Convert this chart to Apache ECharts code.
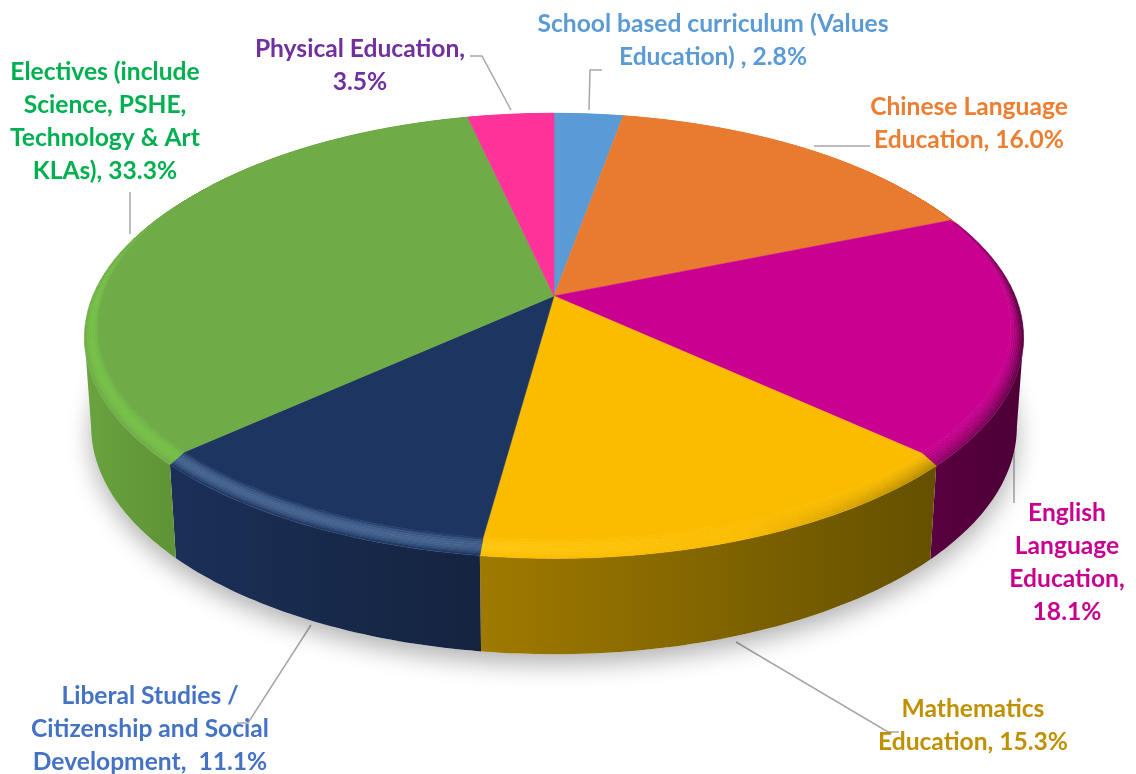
<!DOCTYPE html>
<html>
<head>
<meta charset="utf-8">
<style>
  html, body { margin: 0; padding: 0; background: #fff; }
  #chart { width: 1136px; height: 774px; }
</style>
<script src="https://cdn.jsdelivr.net/npm/echarts@6/dist/echarts.min.js"></script>
</head>
<body>
<div id="chart"></div>
<script>
const categories = [
  'School based curriculum (Values\nEducation) , ',
  'Chinese Language\nEducation, ',
  'English\nLanguage\nEducation,\n',
  'Mathematics\nEducation, ',
  'Liberal Studies /\nCitizenship and Social\nDevelopment,  ',
  'Electives (include\nScience, PSHE,\nTechnology & Art\nKLAs), ',
  'Physical Education,\n'
]
const shares = [2.8, 16.0, 18.1, 15.3, 11.1, 33.3, 3.5]

const faceColors = ['#5b9bd5', '#e97b30', '#c90090', '#fbbc00', '#1d3661', '#6fab46', '#ff3399']
const labelColors = ['#5b9bd5', '#ed7d31', '#c80090', '#bf9000', '#4472c4', '#00b050', '#7030a0']
// 侧面渐变 左->右
const wallColors = [
  ['#3a6a96', '#3a6a96'], ['#8a4a1c', '#8a4a1c'], ['#5a0040', '#4c0036'], ['#a07a00', '#645000'],
  ['#1b3058', '#14233f'], ['#6aa33f', '#5f9335'], ['#a02060', '#a02060']
]
// 斜角高光色
const bevelLights = ['#6aaae0', '#f08a40', '#d810a0', '#ffc810', '#44628f', '#74bf45', '#ff50a8']
const labelPos = [[713, 24], [969, 107], [1067, 513], [973, 709], [150, 696], [105, 72], [360, 49]]
const leaderLines = [
  [[602, 70], [590, 70], [589, 110]],
  [[870, 146], [814, 146]],
  [[1014, 434], [1014, 503]],
  [[736, 642], [888, 732], [899, 732]],
  [[311, 625], [248, 723], [237, 723]],
  [[130, 192], [130, 234]],
  [[470, 56], [482, 56], [511, 110]]
]

// 透视投影参数
const cx = 554, cy = 296, A = 458, B = 212, K = 0.1586
const total = shares.reduce((s, v) => s + v, 0)
const RIM_R = 1.012, RIM_Z = 6, BASE_R = 0.998, BASE_Z = 94

const project = (r, deg, z) => {
  const t = deg * Math.PI / 180
  const x = r * Math.sin(t), y = -r * Math.cos(t)
  const d = 1 - K * y
  return [cx + A * x / d, cy + B * y / d + z * (1 + 0.137 * y)]
}
// 顶面半径 后缘到边 前缘内缩
const faceR = (deg) => 0.986 + 0.012 * Math.cos(deg * Math.PI / 180)
const sliceRange = (i) => {
  const before = shares.slice(0, i).reduce((s, v) => s + v, 0)
  return [before / total * 360, (before + shares[i]) / total * 360]
}
const arc = (r, from, to, z) => {
  const pts = []
  const n = Math.max(2, Math.ceil(to - from))
  for (let j = 0; j <= n; j++) pts.push(project(r, from + (to - from) * j / n, z))
  return pts
}
const hexToRgb = (h) => [1, 3, 5].map(p => parseInt(h.substr(p, 2), 16))
const mix = (a, b, w) => {
  const ca = hexToRgb(a), cb = hexToRgb(b)
  return 'rgb(' + ca.map((c, i) => Math.round(c + (cb[i] - c) * w)).join(',') + ')'
}

const renderShadow = () => ({
  type: 'polygon', silent: true,
  shape: {points: arc(BASE_R, 0, 360, BASE_Z)},
  style: {fill: '#fff', shadowColor: 'rgba(0,0,0,0.3)', shadowBlur: 24, shadowOffsetY: 10}
})

const renderWall = (params) => {
  const i = params.dataIndex
  const range = sliceRange(i)
  // 只画到左右轮廓切点
  const from = Math.max(range[0], 99.1), to = Math.min(range[1], 260.9)
  if (to <= from) return null
  const top = arc(RIM_R, from, to, RIM_Z)
  const bottom = arc(BASE_R, from, to, BASE_Z).reverse()
  const xs = top.concat(bottom).map(p => p[0])
  const fill = new echarts.graphic.LinearGradient(Math.min(...xs), 0, Math.max(...xs), 0, [
    {offset: 0, color: wallColors[i][0]},
    {offset: 1, color: wallColors[i][1]}
  ], true)
  return {
    type: 'polygon', silent: true,
    shape: {points: top.concat(bottom)},
    style: {fill: fill}
  }
}

// 顶面边缘的斜角 左前亮 右前暗
const renderBevel = (params) => {
  const i = params.dataIndex
  const range = sliceRange(i)
  const children = []
  const bands = 8
  const step = 2
  const face = faceColors[i]
  const light = bevelLights[i]
  const dark = wallColors[i][1]
  for (let d = range[0]; d < range[1]; d += step) {
    const e = Math.min(d + step, range[1])
    const mid = (d + e) / 2 * Math.PI / 180
    const l = -Math.sin(mid) * 0.8 - Math.cos(mid) * 0.3
    const back = Math.max(0, Math.min(1, (0.6 - Math.cos(mid)) / 0.6))
    const fd = faceR(d), fe = faceR(e)
    for (let b = 0; b < bands; b++) {
      const t0 = b / bands, t1 = (b + 1) / bands, tm = (t0 + t1) / 2
      const color = l >= 0
        ? mix(face, light, Math.min(1, l * 2.2) * back * Math.pow(Math.sin(Math.PI * Math.min(1, tm * 1.05)), 0.8))
        : mix(face, dark, Math.min(1, -l * 1.3) * back * Math.pow(tm, 1.5))
      const pts = [
        project(fd + (RIM_R - fd) * t0, d, RIM_Z * t0),
        project(fe + (RIM_R - fe) * t0, e, RIM_Z * t0),
        project(fe + (RIM_R - fe) * t1, e, RIM_Z * t1),
        project(fd + (RIM_R - fd) * t1, d, RIM_Z * t1)
      ]
      children.push({
        type: 'polygon', silent: true,
        shape: {points: pts},
        style: {fill: color, stroke: color, lineWidth: 0.6}
      })
    }
  }
  return {type: 'group', children: children}
}

const renderFace = (params) => {
  const i = params.dataIndex
  const range = sliceRange(i)
  const pts = [project(0, 0, 0)]
  const n = Math.max(2, Math.ceil(range[1] - range[0]))
  for (let j = 0; j <= n; j++) {
    const deg = range[0] + (range[1] - range[0]) * j / n
    pts.push(project(faceR(deg), deg, 0))
  }
  return {
    type: 'polygon', silent: true,
    shape: {points: pts},
    style: {fill: faceColors[i], stroke: faceColors[i], lineWidth: 0.5}
  }
}

const textElements = categories.map((name, i) => ({
  type: 'text',
  x: labelPos[i][0],
  y: labelPos[i][1] - 16,
  silent: true,
  style: {
    text: name + shares[i].toFixed(1) + '%',
    fill: labelColors[i],
    font: 'bold 24.6px Lato',
    align: 'center',
    verticalAlign: 'top',
    lineHeight: 33
  }
}))
const lineElements = leaderLines.map(points => ({
  type: 'polyline',
  silent: true,
  shape: {points: points},
  style: {stroke: '#a6a6a6', lineWidth: 1.5, fill: null}
}))

const chart = echarts.init(document.getElementById('chart'))
chart.setOption({
  animation: false,
  backgroundColor: '#fff',
  graphic: {elements: lineElements.concat(textElements)},
  series: [
    {type: 'custom', coordinateSystem: 'none', z: 1, data: [total], renderItem: renderShadow},
    {type: 'custom', coordinateSystem: 'none', z: 2, data: shares, renderItem: renderWall},
    {type: 'custom', coordinateSystem: 'none', z: 3, data: shares, renderItem: renderBevel},
    {type: 'custom', coordinateSystem: 'none', z: 4, data: shares, renderItem: renderFace}
  ]
})
</script>
</body>
</html>
